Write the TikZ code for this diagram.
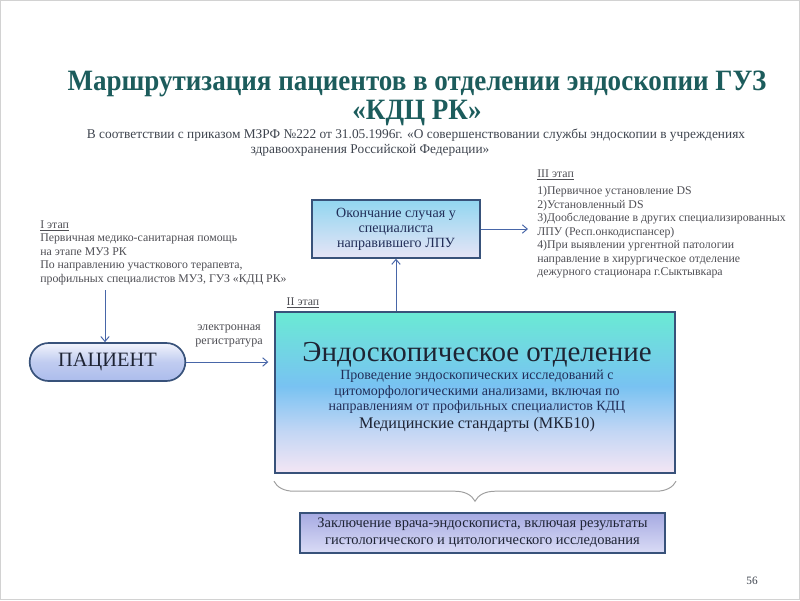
\documentclass[tikz,border=0pt]{standalone}
\usepackage{graphicx}
\usepackage{fontspec}
\setmainfont{Liberation Serif}
\usetikzlibrary{arrows.meta,positioning,calc,shapes.misc,decorations.pathreplacing}
\definecolor{titleteal}{RGB}{28,92,92}
\definecolor{subgray}{RGB}{62,68,78}
\definecolor{notegray}{RGB}{78,78,84}
\definecolor{textdark}{RGB}{30,36,52}
\definecolor{textnavy}{RGB}{34,46,88}
\definecolor{frameblue1}{RGB}{56,82,122}
\definecolor{arrowblue1}{RGB}{72,102,168}
\definecolor{mainteal}{RGB}{106,234,212}
\definecolor{mainsky}{RGB}{120,194,242}
\definecolor{mainpale}{RGB}{194,214,244}
\definecolor{mainpink}{RGB}{244,230,244}
\definecolor{finishtop}{RGB}{146,214,240}
\definecolor{finishbot}{RGB}{230,228,246}
\definecolor{pilltop}{RGB}{242,244,252}
\definecolor{pillmid}{RGB}{192,204,240}
\definecolor{pillbot}{RGB}{172,188,236}
\definecolor{resulttop}{RGB}{166,170,226}
\definecolor{resultbot}{RGB}{218,220,246}
\pgfdeclareverticalshading{endoshade}{100bp}{color(0bp)=(mainpink); color(25bp)=(mainpink); color(38bp)=(mainpale); color(52bp)=(mainsky); color(75bp)=(mainteal); color(100bp)=(mainteal)}
\pgfdeclareverticalshading{finishshade}{100bp}{color(0bp)=(finishbot); color(25bp)=(finishbot); color(75bp)=(finishtop); color(100bp)=(finishtop)}
\pgfdeclareverticalshading{pillshade}{100bp}{color(0bp)=(pillbot); color(25bp)=(pillbot); color(50bp)=(pillmid); color(75bp)=(pilltop); color(100bp)=(pilltop)}
\pgfdeclareverticalshading{resultshade}{100bp}{color(0bp)=(resultbot); color(25bp)=(resultbot); color(75bp)=(resulttop); color(100bp)=(resulttop)}

\begin{document}
\begin{tikzpicture}[x=0.025cm,y=-0.025cm,
  notetext/.style={font=\fontsize{8.4}{9.6}\selectfont,text=notegray,align=left,inner sep=0pt},
  titletext/.style={font=\bfseries\fontsize{21}{24}\selectfont,text=titleteal,inner sep=0pt},
  subtext/.style={font=\fontsize{9.5}{10.7}\selectfont,text=subgray,inner sep=0pt},
  stagebox/.style={rectangle,draw=frameblue1,line width=1pt,align=center,inner sep=2pt,font=\fontsize{10}{10.7}\selectfont,text=textnavy},
  flowarrow/.style={-{Straight Barb[length=3.5pt,width=6pt]},draw=arrowblue1,line width=0.7pt}]
\useasboundingbox (0,0) rectangle (800,600);
\draw[gray!35,line width=0.8pt] (0.5,0.5) rectangle (799.5,599.5);
\node[titletext] (title) at (417,84) {\scalebox{0.915}[1]{Маршрутизация пациентов в отделении эндоскопии ГУЗ}};
\node[titletext] (title2) at (417,113) {\scalebox{0.915}[1]{«КДЦ РК»}};
\node[subtext] (sub1) at (416,135) {В соответствии с приказом МЗРФ №222 от 31.05.1996г. «О совершенствовании службы эндоскопии в учреждениях};
\node[subtext] (sub2) at (370,150) {здравоохранения Российской Федерации»};
\node[notetext,anchor=north west] (stage1) at (40,220) {\underline{I этап}\\Первичная медико-санитарная помощь\\на этапе МУЗ РК\\По направлению участкового терапевта,\\профильных специалистов МУЗ, ГУЗ «КДЦ РК»};
\node[notetext,anchor=north west] (stage3) at (537,169) {\underline{III этап}\\[3pt]1)Первичное установление DS\\2)Установленный DS\\3)Дообследование в других специализированных\\ЛПУ (Респ.онкодиспансер)\\4)При выявлении ургентной патологии\\направление в хирургическое отделение\\дежурного стационара г.Сыктывкара};
\node[stagebox,shading=finishshade,minimum width=4.2cm,minimum height=1.45cm] (finish) at (396,229) {Окончание случая у\\специалиста\\направившего ЛПУ};
\node[stagebox,shading=endoshade,line width=1.4pt,minimum width=10cm,minimum height=4.025cm] (endo) at (475,392.5) {};
\node[align=center,inner sep=0pt,font=\fontsize{9.95}{11}\selectfont,text=textnavy] (endotext) at (477,387) {{\fontsize{20.6}{22}\selectfont\color{textdark}Эндоскопическое отделение}\\[2pt]Проведение эндоскопических исследований с\\цитоморфологическими анализами, включая по\\направлениям от профильных специалистов КДЦ\\[1.5pt]{\fontsize{11.5}{13}\selectfont\color{textdark}Медицинские стандарты (МКБ10)}};
\node[notetext] (stage2) at (303,303) {\underline{II этап}};
\node[rounded rectangle,draw=frameblue1,line width=1.2pt,shading=pillshade,minimum width=4.125cm,minimum height=0.95cm,font=\fontsize{14.5}{16}\selectfont,text=textdark] (patient) at (107.5,362) {ПАЦИЕНТ};
\node[notetext,align=center,font=\fontsize{8.6}{9.8}\selectfont] (ereg) at (229,336) {электронная\\регистратура};
\node[stagebox,shading=resultshade,minimum width=9.125cm,minimum height=1cm,font=\fontsize{10.3}{12}\selectfont,text=textdark] (result) at (482.5,533) {Заключение врача-эндоскописта, включая результаты\\гистологического и цитологического исследования};
\node[font=\fontsize{8}{9}\selectfont,text=subgray,inner sep=0pt] (pagenum) at (752,581) {56};
\coordinate (stage1end) at (105,290);
\coordinate (stage3start) at (528,225);
\draw[flowarrow] (stage1end) -- (stage1end |- patient.north);
\draw[flowarrow,shorten >=4pt] (patient.east) -- (patient.east -| endo.west);
\draw[flowarrow] (endo.north -| finish.south) -- (finish.south);
\draw[flowarrow] (finish.east) -- (finish.east -| stage3start);
\draw[decorate,decoration={brace,mirror,amplitude=0.5cm,aspect=0.5},draw=gray!75,line width=0.7pt] ([yshift=-0.18cm]endo.south west) -- ([yshift=-0.18cm]endo.south east);
\end{tikzpicture}
\end{document}
